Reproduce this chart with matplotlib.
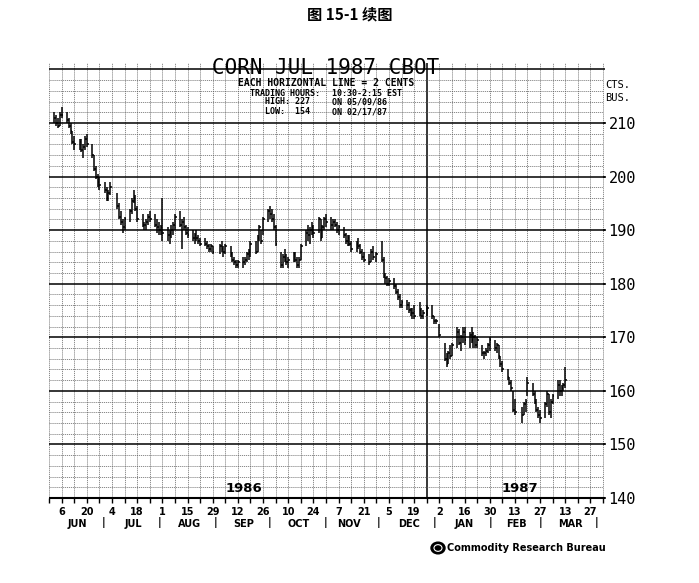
import matplotlib
matplotlib.use('Agg')
import matplotlib.pyplot as plt
import matplotlib.dates as mdates
import matplotlib.transforms as mtransforms
from matplotlib.patches import Circle
import pandas as pd
import numpy as np

# ---------------- data (cents per bushel, daily high / low / close) ----------------
start_day = '1986-06-02'
end_day = '1987-03-13'
holidays = ['1986-07-04', '1986-09-01', '1986-11-27', '1986-12-25', '1987-01-01', '1987-02-16']

highs = [
    212, 211.5, 211, 212, 213,          # Jun 2-6
    212, 211, 210, 208.5, 207.5,        # Jun 9-13
    207, 207, 206, 207.5, 208,          # Jun 16-20
    206, 204, 202, 200.5, 200,          # Jun 23-27
    199, 198, 197.5, 199,               # Jun 30-Jul 3
    197, 195, 193.5, 192, 192.5,        # Jul 7-11
    194, 196, 197.5, 196.5, 194.5,      # Jul 14-18
    193, 191.5, 192, 193, 193.5,        # Jul 21-25
    193, 192, 191.5, 191, 196,          # Jul 28-Aug 1
    190.5, 190, 191, 191.5, 193,        # Aug 4-8
    193.5, 192, 192.5, 191, 190.5,      # Aug 11-15
    190, 189.5, 190, 189, 188.5,        # Aug 18-22
    188.5, 188, 187.5, 187.5, 187,      # Aug 25-29
    187.5, 188, 187, 187.5,             # Sep 2-5
    187, 186, 185, 184.5, 184.5,        # Sep 8-12
    185, 185, 186, 186.5, 188,          # Sep 15-19
    188, 189, 191, 190, 192.5,          # Sep 22-26
    194, 194.5, 194, 193, 191,          # Sep 29-Oct 3
    186, 185.5, 186.5, 185.5, 185,      # Oct 6-10
    186, 186, 185, 185, 187.5,          # Oct 13-17
    190, 191, 190.5, 191.5, 191,        # Oct 20-24
    192.5, 192, 191, 192.5, 193,        # Oct 27-31
    192.5, 192, 192, 191.5, 191,        # Nov 3-7
    190.5, 189.5, 189, 189, 188,        # Nov 10-14
    188, 188.5, 187.5, 186.5, 186,      # Nov 17-21
    185.5, 186.5, 187, 186,             # Nov 24-28
    188, 185, 182, 181.5, 181,          # Dec 1-5
    181, 180, 179, 178, 177,            # Dec 8-12
    177, 176.5, 175.5, 175.5, 176,      # Dec 15-19
    176.5, 175.5, 175, 176,             # Dec 22-26
    176, 174, 173.5, 172.5,             # Dec 29-Jan 2
    169, 167, 167.5, 168.5, 169,        # Jan 5-9
    172, 171.5, 170.5, 172, 172,        # Jan 12-16
    171, 172, 171, 170.5, 170,          # Jan 19-23
    168.5, 167.5, 168, 169, 170,        # Jan 26-30
    169.5, 169, 168.5, 166.5, 165.5,    # Feb 2-6
    164, 162.5, 162, 160, 158.5,        # Feb 9-13
    157, 158, 158.5, 162.5,             # Feb 17-20
    161.5, 160, 158.5, 157, 156.5,      # Feb 23-27
    158, 160, 159.5, 158.5, 159.5,      # Mar 2-6
    162, 162, 161, 161.5, 164.5,        # Mar 9-13
]

lows = [
    210, 209.5, 209, 209.5, 211,
    210, 209, 208, 206, 205,
    205, 204.5, 203.5, 205, 205.5,
    203.5, 201, 199.5, 198, 197.5,
    197, 195.5, 195.5, 196.5,
    194, 192, 191, 189.5, 190,
    191.5, 193, 195, 193.5, 191.5,
    190.5, 190, 190, 191, 191.5,
    190.5, 189.5, 189, 189, 188,
    188, 187.5, 188.5, 189, 190,
    190.5, 186.5, 190, 189, 188.5,
    188, 187.5, 188, 187.5, 187,
    187, 186.5, 186, 186, 185.5,
    185.5, 186, 185, 185.5,
    185, 184, 183.5, 183, 183,
    183, 183.5, 184, 184.5, 185,
    185.5, 186, 188, 187.5, 189,
    191.5, 192, 191.5, 190, 187,
    183, 183, 184, 183.5, 183,
    184, 184, 183, 183, 184.5,
    187, 188, 187.5, 189, 188.5,
    189.5, 188, 188.5, 190, 190.5,
    190, 190, 190.5, 189.5, 189,
    188.5, 187.5, 187, 187, 186,
    186, 186.5, 185.5, 184.5, 184,
    183.5, 184, 184.5, 184,
    184, 181, 180, 179.5, 179.5,
    179, 178, 177, 175.5, 175.5,
    175, 174.5, 174, 173.5, 173.5,
    174, 173.5, 173.5, 174,
    173.5, 172.5, 172.5, 170,
    165.5, 164.5, 165, 166, 166.5,
    168, 168.5, 167.5, 169, 168.5,
    168, 169, 168, 168, 168,
    166.5, 166, 166.5, 167, 167.5,
    167.5, 167, 166, 164.5, 163.5,
    162, 161, 160, 156, 155.5,
    154, 155.5, 156, 159,
    159, 157.5, 156, 155, 154,
    155, 157, 155.5, 155, 157.5,
    158.5, 159, 159, 160, 160.5,
]

closes = [
    211, 210, 209.5, 211.5, 211.5,
    210.5, 209.5, 208.5, 206.5, 206,
    206.5, 205, 205.5, 207, 206,
    204, 201.5, 200, 199, 198.5,
    197.5, 196, 197, 198,
    194.5, 192.5, 191.5, 190.5, 192,
    193.5, 195.5, 196, 194, 192,
    191, 191, 191.5, 192.5, 192,
    191, 190.5, 190, 190.5, 189.5,
    189, 189.5, 190, 191, 192.5,
    191, 191.5, 190.5, 189.5, 189,
    188.5, 189, 188.5, 188, 187.5,
    187.5, 187, 186.5, 187, 186,
    187, 186.5, 186, 187,
    185.5, 184.5, 184, 183.5, 184,
    184, 184.5, 185.5, 186, 187.5,
    186, 188.5, 190.5, 188, 192,
    193.5, 193, 192, 190.5, 187.5,
    183.5, 185, 184.5, 184, 184.5,
    185.5, 184.5, 183.5, 184.5, 187,
    189.5, 189, 190, 190.5, 189.5,
    192, 188.5, 190.5, 192, 191.5,
    191, 191.5, 191, 190, 190.5,
    189, 188, 188.5, 187.5, 186.5,
    187.5, 187, 186, 185, 184.5,
    184, 186, 185, 185.5,
    184.5, 181.5, 181, 180, 180.5,
    179.5, 178.5, 177.5, 176, 176.5,
    176, 175, 174.5, 174.5, 174,
    175, 174, 174.5, 175.5,
    174, 173, 173, 170.5,
    166, 165, 167, 166.5, 168.5,
    171, 169, 170, 171, 169.5,
    170.5, 169.5, 170, 168.5, 169.5,
    167, 167, 167.5, 168.5, 169.5,
    168, 168.5, 166.5, 165, 164,
    162.5, 161.5, 160.5, 156.5, 156,
    155.5, 157.5, 158, 161.5,
    159.5, 158, 156.5, 155.5, 155,
    157.5, 159.5, 156, 158, 159,
    161, 160, 160.5, 161, 162,
]

day_labels = ['6', '20', '4', '18', '1', '15', '29', '12', '26', '10', '24',
              '7', '21', '5', '19', '2', '16', '30', '13', '27', '13', '27']
month_names = ['JUN', 'JUL', 'AUG', 'SEP', 'OCT', 'NOV', 'DEC', 'JAN', 'FEB', 'MAR']
month_mid = ['1986-06-15', '1986-07-16', '1986-08-16', '1986-09-15', '1986-10-16',
             '1986-11-13', '1986-12-16', '1987-01-16', '1987-02-14', '1987-03-16']
month_starts = ['1986-07-01', '1986-08-01', '1986-09-01', '1986-10-01', '1986-11-01',
                '1986-12-01', '1987-01-01', '1987-02-01', '1987-03-01', '1987-04-01']
price_ticks = [140, 150, 160, 170, 180, 190, 200, 210]

# ---------------- figure ----------------
W, H = 699, 583
fig = plt.figure(figsize=(W / 100, H / 100), dpi=100)
fig.patch.set_facecolor('white')


def fx(x):
    return x / W


def fy(y):
    return 1 - y / H


ax = fig.add_axes([fx(49), fy(498), (603 - 49) / W, (498 - 63) / H])

hol = set(pd.to_datetime(holidays))
days = [d for d in pd.bdate_range(start_day, end_day) if d not in hol]
assert len(days) == len(highs) == len(lows) == len(closes)
xd = mdates.date2num(days)

fridays = pd.date_range('1986-05-30', '1987-04-03', freq='7D')
xf = mdates.date2num(fridays)
x0, x1 = xf[0], xf[-1]
ymin, ymax = 140, 221.2

# grid
grid_col = '#5a5a5a'
dots = (0, (1.6, 1.2))
heavy_fri = mdates.date2num(pd.Timestamp('1986-12-26'))
for v in xf:
    if abs(v - heavy_fri) < 0.1:
        ax.vlines(v, ymin, ymax, color='black', lw=1.1, zorder=1, clip_on=False)
    else:
        ax.vlines(v, ymin, ymax, color=grid_col, lw=0.5, linestyles=dots,
                  zorder=1, clip_on=False)
for v in np.arange(142, 221, 2):
    if v % 10 == 0:
        ax.hlines(v, x0, x1 + 1.0, color='black', lw=1.1, zorder=1, clip_on=False)
    else:
        ax.hlines(v, x0, x1, color=grid_col, lw=0.5, linestyles=dots,
                  zorder=1, clip_on=False)
ax.hlines(140, x0, x1 + 1.0, color='black', lw=1.5, zorder=1, clip_on=False)

# price bars
ax.vlines(xd, lows, highs, color='black', lw=1.1, zorder=3)
ax.hlines(closes, xd, xd + 1.0, color='black', lw=1.1, zorder=3)

ax.set_xlim(x0, x1)
ax.set_ylim(ymin, ymax)
for s in ax.spines.values():
    s.set_visible(False)

ax.yaxis.tick_right()
ax.set_yticks(price_ticks)
ax.set_yticklabels([str(t) for t in price_ticks], family='DejaVu Sans Mono', fontsize=11)
ax.tick_params(axis='y', length=2, width=1.1, pad=2)
ax.set_xticks(xf)
ax.set_xticklabels([''] * len(xf))
ax.tick_params(axis='x', length=3.5, width=1.0, direction='out')

# bottom labels
bt = mtransforms.blended_transform_factory(ax.transData, fig.transFigure)
for lab, d in zip(day_labels, xf[1::2]):
    ax.text(d, fy(512), lab, transform=bt, ha='center', va='center',
            fontsize=7, fontweight='bold', family='DejaVu Sans')
for name, d in zip(month_names, month_mid):
    ax.text(mdates.date2num(pd.Timestamp(d)), fy(524), name, transform=bt, ha='center',
            va='center', fontsize=7, fontweight='bold', family='DejaVu Sans')
for d in month_starts:
    ax.text(mdates.date2num(pd.Timestamp(d)) - 1.5, fy(523), '|', transform=bt, ha='center',
            va='center', fontsize=7, fontweight='bold', family='DejaVu Sans')

# year labels
fig.text(fx(244), fy(489), '1986', ha='center', va='center', fontsize=9.5,
         fontweight='bold', family='DejaVu Sans')
fig.text(fx(520), fy(489), '1987', ha='center', va='center', fontsize=9.5,
         fontweight='bold', family='DejaVu Sans')

# title block
fig.text(fx(326), fy(68), 'CORN JUL 1987 CBOT', ha='center', va='center', fontsize=15,
         family='DejaVu Sans Mono')
fig.text(fx(326), fy(83), 'EACH HORIZONTAL LINE = 2 CENTS', ha='center', va='center',
         fontsize=7, fontweight='bold', family='DejaVu Sans Mono')
fig.text(fx(320), fy(93), 'TRADING HOURS:', ha='right', va='center', fontsize=6,
         fontweight='bold', family='DejaVu Sans Mono')
fig.text(fx(332), fy(93), '10:30-2:15 EST', ha='left', va='center', fontsize=6,
         fontweight='bold', family='DejaVu Sans Mono')
fig.text(fx(265), fy(102), 'HIGH: 227', ha='left', va='center', fontsize=6,
         fontweight='bold', family='DejaVu Sans Mono')
fig.text(fx(332), fy(102), 'ON 05/09/86', ha='left', va='center', fontsize=6,
         fontweight='bold', family='DejaVu Sans Mono')
fig.text(fx(265), fy(112), 'LOW:  154', ha='left', va='center', fontsize=6,
         fontweight='bold', family='DejaVu Sans Mono')
fig.text(fx(332), fy(112), 'ON 02/17/87', ha='left', va='center', fontsize=6,
         fontweight='bold', family='DejaVu Sans Mono')

fig.text(fx(605), fy(85), 'CTS.', ha='left', va='center', fontsize=7.5,
         family='DejaVu Sans Mono')
fig.text(fx(605), fy(98), 'BUS.', ha='left', va='center', fontsize=7.5,
         family='DejaVu Sans Mono')

# top caption
fig.text(0.5, fy(14), '图 15-1 续图', ha='center', va='center', fontsize=11,
         fontweight='bold', family=['Noto Sans CJK SC', 'DejaVu Sans'])

# publisher logo
logo = Circle((fx(438), fy(548)), 7 / W, transform=fig.transFigure, facecolor='black',
              edgecolor='black')
fig.patches.append(logo)
logo2 = Circle((fx(438), fy(548)), 4 / W, transform=fig.transFigure, facecolor='none',
               edgecolor='white', lw=0.8)
fig.patches.append(logo2)
fig.text(fx(447), fy(548), 'Commodity Research Bureau', ha='left', va='center', fontsize=7,
         fontweight='bold', family='DejaVu Sans')

fig.savefig('out.png', dpi=100, facecolor='white')
